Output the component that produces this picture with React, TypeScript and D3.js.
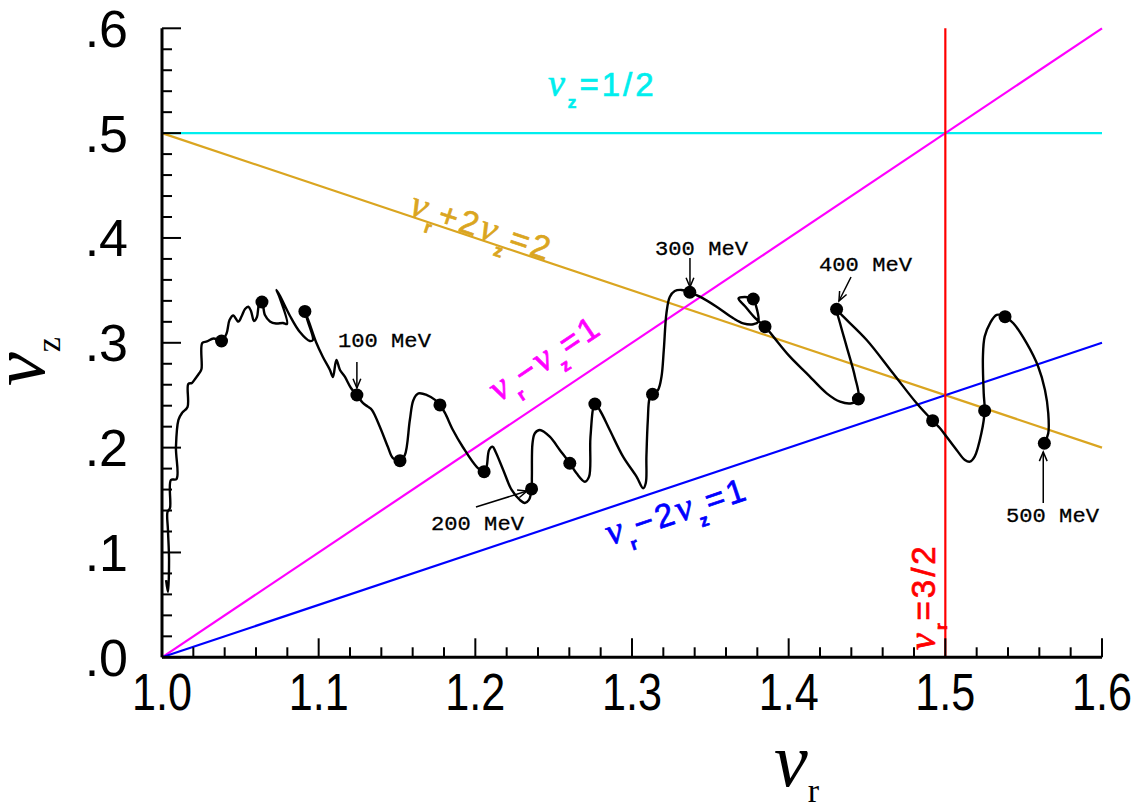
import React from 'react';
import * as d3 from 'd3';

const W = 1136;
const H = 811;

// Tune diagram path (nu_r, nu_z)
const tuneR = [1.0026,1.0038,1.0045,1.0038,1.0035,1.0051,1.0057,1.0093,1.0089,1.0105,1.0128,1.0163,1.0168,1.0191,1.0211,1.0239,1.0252,1.0257,1.0287,1.0329,1.0380,1.0412,1.0431,1.0455,1.0487,1.0509,1.0530,1.0551,1.0568,1.0587,1.0606,1.0619,1.0638,1.0657,1.0689,1.0728,1.0772,1.0798,1.0747,1.0731,1.0753,1.0817,1.0880,1.0944,1.0963,1.0932,1.0912,1.0938,1.0983,1.1027,1.1072,1.1091,1.1113,1.1136,1.1168,1.1206,1.1244,1.1282,1.1314,1.1340,1.1391,1.1442,1.1474,1.1519,1.1550,1.1582,1.1605,1.1637,1.1691,1.1743,1.1774,1.1806,1.1857,1.1920,1.2010,1.2056,1.2072,1.2088,1.2110,1.2129,1.2178,1.2232,1.2284,1.2316,1.2342,1.2359,1.2361,1.2365,1.2380,1.2412,1.2475,1.2539,1.2603,1.2646,1.2699,1.2726,1.2735,1.2763,1.2794,1.2858,1.2943,1.3029,1.3071,1.3088,1.3092,1.3101,1.3113,1.3131,1.3166,1.3188,1.3203,1.3220,1.3241,1.3273,1.3316,1.3369,1.3433,1.3540,1.3647,1.3710,1.3774,1.3806,1.3790,1.3774,1.3720,1.3680,1.3720,1.3785,1.3849,1.3902,1.4008,1.4115,1.4243,1.4328,1.4402,1.4445,1.4423,1.4370,1.4328,1.4306,1.4338,1.4498,1.4666,1.4817,1.4919,1.4966,1.5008,1.5072,1.5125,1.5157,1.5187,1.5230,1.5251,1.5245,1.5240,1.5251,1.5285,1.5328,1.5381,1.5434,1.5519,1.5593,1.5636,1.5657,1.5657,1.5632];
const tuneZ = [0.0737,0.0623,0.0928,0.1214,0.1386,0.1424,0.1691,0.1701,0.2006,0.2264,0.2331,0.2388,0.2607,0.2617,0.2655,0.2712,0.2750,0.2998,0.3013,0.3041,0.3017,0.3089,0.3218,0.3261,0.3202,0.3256,0.3323,0.3344,0.3304,0.3208,0.3246,0.3361,0.3389,0.3265,0.3204,0.3184,0.3189,0.3180,0.3447,0.3504,0.3447,0.3256,0.3103,0.3017,0.3027,0.3199,0.3299,0.3199,0.3008,0.2865,0.2741,0.2674,0.2836,0.2741,0.2674,0.2569,0.2502,0.2426,0.2391,0.2359,0.2197,0.2006,0.1901,0.1876,0.1930,0.2264,0.2455,0.2517,0.2502,0.2455,0.2407,0.2331,0.2168,0.2006,0.1815,0.1771,0.1818,0.1978,0.2009,0.1961,0.1787,0.1596,0.1501,0.1472,0.1501,0.1606,0.1723,0.2042,0.2137,0.2168,0.2104,0.1978,0.1851,0.1755,0.1675,0.1723,0.2104,0.2416,0.2359,0.2168,0.1914,0.1723,0.1612,0.1663,0.1914,0.2264,0.2474,0.2509,0.2550,0.2674,0.2932,0.3284,0.3437,0.3494,0.3504,0.3482,0.3440,0.3344,0.3234,0.3186,0.3177,0.3201,0.3361,0.3418,0.3437,0.3423,0.3351,0.3237,0.3154,0.3059,0.2868,0.2709,0.2518,0.2438,0.2423,0.2464,0.2677,0.2963,0.3186,0.3320,0.3266,0.3027,0.2709,0.2423,0.2257,0.2185,0.2104,0.1978,0.1882,0.1866,0.1914,0.2137,0.2353,0.2518,0.2868,0.3059,0.3186,0.3266,0.3249,0.3186,0.2996,0.2772,0.2550,0.2328,0.2137,0.2042];

// Markers every 25 MeV
const dotR = [1.0380,1.0638,1.0912,1.1244,1.1519,1.1774,1.2056,1.2359,1.2603,1.2763,1.3131,1.3369,1.3774,1.3849,1.4445,1.4306,1.4919,1.5251,1.5381,1.5632];
const dotZ = [0.3017,0.3389,0.3299,0.2502,0.1876,0.2407,0.1771,0.1606,0.1851,0.2416,0.2509,0.3482,0.3418,0.3154,0.2464,0.3320,0.2257,0.2353,0.3249,0.2042];

// Axes
const xTickValues = [1.0, 1.1, 1.2, 1.3, 1.4, 1.5, 1.6];
const xTickLabels = ['1.0', '1.1', '1.2', '1.3', '1.4', '1.5', '1.6'];
const yTickValues = [0, 0.1, 0.2, 0.3, 0.4, 0.5, 0.6];
const yTickLabels = ['.0', '.1', '.2', '.3', '.4', '.5', '.6'];

// Resonance lines: endpoints
const resR1 = [1.0, 1.0, 1.0, 1.0, 1.5];
const resZ1 = [0.5, 0.5, 0.0, 0.0, 0.0];
const resR2 = [1.6, 1.6, 1.6, 1.6, 1.5];
const resZ2 = [0.5, 0.2, 0.6, 0.3, 0.6];
const resColors = ['#00eeee', '#daa520', '#ff00ff', '#0000ff', '#ff0000'];
// Resonance label anchors (start of baseline)
const resLabelR = [1.2464, 1.1570, 1.2150, 1.2860, 1.4934];
const resLabelZ = [0.5354, 0.4227, 0.2430, 0.1067, 0.0070];
// label parts: g = greek nu, s = subscript, n = normal
const resLabelParts: [string, string][][] = [
  [['ν', 'g'], ['z', 's'], ['=1/2', 'n']],
  [['ν', 'g'], ['r', 's'], ['+2', 'n'], ['ν', 'g'], ['z', 's'], ['=2', 'n']],
  [['ν', 'g'], ['r', 's'], ['−', 'n'], ['ν', 'g'], ['z', 's'], ['=1', 'n']],
  [['ν', 'g'], ['r', 's'], ['−2', 'n'], ['ν', 'g'], ['z', 's'], ['=1', 'n']],
  [['ν', 'g'], ['r', 's'], ['=3/2', 'n']],
];

// Energy annotations
const energyLabels = ['100 MeV', '200 MeV', '300 MeV', '400 MeV', '500 MeV'];
const energyLabelR = [1.1123, 1.1717, 1.3147, 1.4194, 1.5387];
const energyLabelZ = [0.2960, 0.1214, 0.3838, 0.3685, 0.1291];
const arrowTailR = [1.1244, 1.2004, 1.3370, 1.4398, 1.5625];
const arrowTailZ = [0.2817, 0.1434, 0.3809, 0.3628, 0.1472];
const arrowHeadR = [1.1244, 1.2330, 1.3370, 1.4321, 1.5625];
const arrowHeadZ = [0.2569, 0.1586, 0.3532, 0.3399, 0.1959];

const x = d3.scaleLinear().domain([1.0, 1.6]).range([162, 1102]);
const y = d3.scaleLinear().domain([0, 0.6]).range([657.3, 28.3]);

const SANS = 'Liberation Sans, Arial, sans-serif';
const SERIF = 'Liberation Serif, Times New Roman, serif';
const MONO = 'Liberation Mono, Courier New, monospace';

function RichLabel({ parts, color, size, tx, ty, angle, spacing }: any) {
  const subShift = size * 0.36;
  let inSub = false;
  const spans = parts.map((p: [string, string], i: number) => {
    const [t, kind] = p;
    let dy = 0;
    if (kind === 's' && !inSub) { dy = subShift; inSub = true; }
    else if (kind !== 's' && inSub) { dy = -subShift; inSub = false; }
    const props: any = { key: i, dy };
    if (kind === 'g') {
      props.fontFamily = SERIF; props.fontStyle = 'italic'; props.fontSize = size * 1.15;
    } else if (kind === 's') {
      props.fontSize = size * 0.52; props.fontWeight = 'bold';
    } else {
      props.fontSize = size;
    }
    return <tspan {...props}>{t}</tspan>;
  });
  return (
    <text transform={`translate(${tx},${ty}) rotate(${angle})`} fill={color} stroke={color}
      strokeWidth={0.7} fontFamily={SANS} letterSpacing={spacing}>
      {spans}
    </text>
  );
}

export default function App() {
  const line = d3.line<number>()
    .x((i) => x(tuneR[i]))
    .y((i) => y(tuneZ[i]))
    .curve(d3.curveCatmullRom.alpha(0.5));
  const tunePath = line(tuneR.map((_, i) => i)) || '';

  const xMinor = x.ticks(30);
  const yMinor = y.ticks(30);
  const isMajor = (v: number) => Math.abs(v * 10 - Math.round(v * 10)) < 1e-6;

  const x0 = x(1.0), y0 = y(0);

  return (
    <svg width={W} height={H} style={{ position: 'absolute', left: 0, top: 0, background: '#fff' }}
      xmlns="http://www.w3.org/2000/svg">
      <rect width={W} height={H} fill="#fff" />
      {/* resonance lines */}
      {resR1.map((_, i) => (
        <line key={'res' + i} x1={x(resR1[i])} y1={y(resZ1[i])} x2={x(resR2[i])} y2={y(resZ2[i])}
          stroke={resColors[i]} strokeWidth={2.2} />
      ))}
      {/* resonance labels */}
      {resLabelR.map((_, i) => {
        let angle = (Math.atan2(y(resZ2[i]) - y(resZ1[i]), x(resR2[i]) - x(resR1[i])) * 180) / Math.PI;
        if (i === 4) angle = -90;
        return (
          <RichLabel key={'rl' + i} parts={resLabelParts[i]} color={resColors[i]} size={33}
            tx={x(resLabelR[i])} ty={y(resLabelZ[i])} angle={angle} spacing={3} />
        );
      })}
      {/* tune curve */}
      <path d={tunePath} fill="none" stroke="#000" strokeWidth={2.4} strokeLinejoin="round" />
      {dotR.map((_, i) => (
        <circle key={'d' + i} cx={x(dotR[i])} cy={y(dotZ[i])} r={6.5} fill="#000" />
      ))}
      {/* energy annotations */}
      {energyLabels.map((lab, i) => {
        const ax1 = x(arrowTailR[i]), ay1 = y(arrowTailZ[i]);
        const ax2 = x(arrowHeadR[i]), ay2 = y(arrowHeadZ[i]);
        const ang = Math.atan2(ay2 - ay1, ax2 - ax1);
        const hl = 10, ha = 0.4;
        const hx1 = ax2 - hl * Math.cos(ang - ha), hy1 = ay2 - hl * Math.sin(ang - ha);
        const hx2 = ax2 - hl * Math.cos(ang + ha), hy2 = ay2 - hl * Math.sin(ang + ha);
        return (
          <g key={'e' + i}>
            <text x={x(energyLabelR[i])} y={y(energyLabelZ[i])} fontFamily={MONO} fontSize={21}
              fill="#000" stroke="#000" strokeWidth={0.3} textLength={93} lengthAdjust="spacingAndGlyphs">{lab}</text>
            <line x1={ax1} y1={ay1} x2={ax2} y2={ay2} stroke="#000" strokeWidth={1.5} />
            <polyline points={`${hx1},${hy1} ${ax2},${ay2} ${hx2},${hy2}`} fill="none" stroke="#000" strokeWidth={1.5} />
          </g>
        );
      })}
      {/* axes */}
      <line x1={x0} y1={y0} x2={x(1.6)} y2={y0} stroke="#000" strokeWidth={3} />
      <line x1={x0} y1={y0} x2={x0} y2={y(0.6)} stroke="#000" strokeWidth={3} />
      {xMinor.map((v, i) => (
        <line key={'xt' + i} x1={x(v)} x2={x(v)} y1={y0} y2={y0 - (isMajor(v) ? 19 : 10)} stroke="#000" strokeWidth={2} />
      ))}
      {yMinor.map((v, i) => (
        <line key={'yt' + i} x1={x0} x2={x0 + (isMajor(v) ? 19 : 10)} y1={y(v)} y2={y(v)} stroke="#000" strokeWidth={2} />
      ))}
      {xTickValues.map((v, i) => (
        <text key={'xl' + i} x={x(v)} y={710} textAnchor="middle" fontFamily={SANS} fontSize={52}
          textLength={60} lengthAdjust="spacingAndGlyphs" fill="#000">{xTickLabels[i]}</text>
      ))}
      {yTickValues.map((v, i) => (
        <text key={'yl' + i} x={128} y={y(v) + 18.5} textAnchor="end" fontFamily={SANS} fontSize={52}
          fill="#000">{yTickLabels[i]}</text>
      ))}
      {/* axis titles */}
      <text x={774} y={786} fill="#000">
        <tspan fontFamily={SERIF} fontStyle="italic" fontSize={76}>ν</tspan>
        <tspan fontFamily={SERIF} fontSize={34} dy={16}>r</tspan>
      </text>
      <text transform="translate(44,386) rotate(-90)" fill="#000">
        <tspan fontFamily={SERIF} fontStyle="italic" fontSize={76}>ν</tspan>
        <tspan fontFamily={SERIF} fontSize={34} dy={16}>z</tspan>
      </text>
    </svg>
  );
}
